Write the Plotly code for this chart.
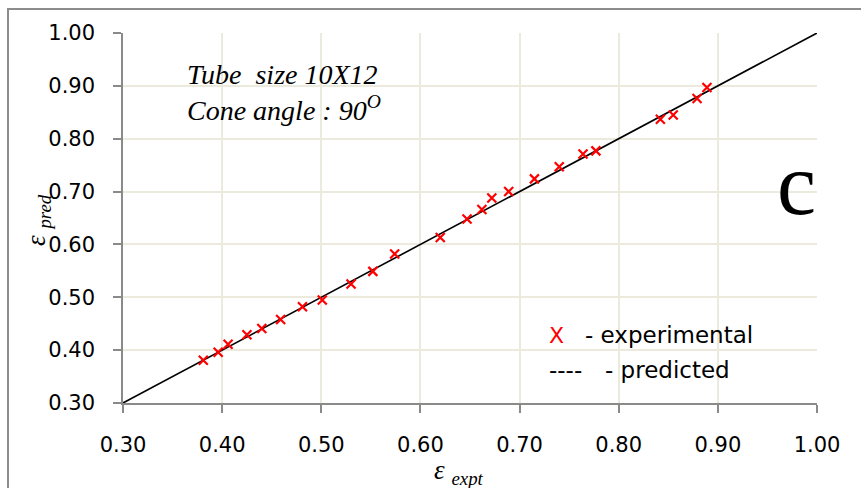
import plotly.graph_objects as go

# Measured vs. predicted effectiveness, tube 10X12, cone angle 90 deg
eps_expt = [0.381, 0.396, 0.406, 0.425, 0.440, 0.459, 0.481, 0.501, 0.530, 0.552,
            0.574, 0.620, 0.647, 0.662, 0.672, 0.689, 0.715, 0.740, 0.764, 0.777,
            0.842, 0.855, 0.879, 0.889]
eps_pred = [0.381, 0.396, 0.411, 0.429, 0.441, 0.458, 0.482, 0.495, 0.525, 0.549,
            0.582, 0.613, 0.648, 0.666, 0.688, 0.700, 0.724, 0.747, 0.771, 0.777,
            0.837, 0.845, 0.876, 0.897]

# parity line y = x across the plotted range
parity = [0.30, 1.00]
tick_vals = [0.30, 0.40, 0.50, 0.60, 0.70, 0.80, 0.90, 1.00]
tick_text = ["0.30", "0.40", "0.50", "0.60", "0.70", "0.80", "0.90", "1.00"]

W, H = 861, 488
L, R, T, B = 123, 44, 33, 85
pw, ph = W - L - R, H - T - B


def px_x(p):
    return (p - L) / pw


def px_y(p):
    return 1 - (p - T) / ph


fig = go.Figure()
fig.add_trace(go.Scatter(x=parity, y=parity, mode="lines",
                         line=dict(color="black", width=1.6),
                         showlegend=False, hoverinfo="skip"))
fig.add_trace(go.Scatter(x=eps_expt, y=eps_pred, mode="markers",
                         marker=dict(symbol="x-thin", size=9,
                                     line=dict(color="#ff0000", width=2.2)),
                         showlegend=False))

axis_common = dict(
    range=[0.30, 1.00], tickvals=tick_vals, ticktext=tick_text,
    showgrid=True, gridcolor="#ece9dd", gridwidth=2,
    showline=True, linecolor="#8a8a8a", linewidth=1.5,
    ticks="outside", ticklen=8, tickcolor="#8a8a8a", tickwidth=1.5,
    tickfont=dict(family="DejaVu Sans", size=21, color="black"),
    zeroline=False, automargin=False,
)
fig.update_xaxes(**axis_common, ticklabelstandoff=14)
fig.update_yaxes(**axis_common, ticklabelstandoff=14)

serif = "Liberation Serif, Times New Roman, serif"
sans = "DejaVu Sans"
annotations = [
    dict(x=px_x(185), y=px_y(75), text="<i>Tube  size 10X12</i>",
         font=dict(family=serif, size=28, color="black")),
    dict(x=px_x(185), y=px_y(108), text="<i>Cone angle : 90<sup>O</sup></i>",
         font=dict(family=serif, size=28, color="black")),
    dict(x=px_x(796), y=px_y(184), text="c", xanchor="center",
         font=dict(family=serif, size=88, color="black")),
    dict(x=px_x(547), y=px_y(335), text="X",
         font=dict(family=sans, size=22, color="#ff0000")),
    dict(x=px_x(583), y=px_y(335), text="- experimental",
         font=dict(family=sans, size=23, color="black")),
    dict(x=px_x(547), y=px_y(370), text="----",
         font=dict(family=sans, size=23, color="black")),
    dict(x=px_x(603), y=px_y(370), text="- predicted",
         font=dict(family=sans, size=23, color="black")),
]
for a in annotations:
    a.setdefault("xanchor", "left")
    a.update(xref="paper", yref="paper", yanchor="middle", showarrow=False)

# axis titles
annotations.append(dict(
    x=px_x(459), y=px_y(472), xref="paper", yref="paper",
    text="<i>ε <sub>expt</sub></i>", showarrow=False,
    xanchor="center", yanchor="middle",
    font=dict(family=serif, size=27, color="black")))
annotations.append(dict(
    x=px_x(38), y=px_y(220), xref="paper", yref="paper",
    text="<i>ε <sub>pred</sub></i>", showarrow=False, textangle=-90,
    xanchor="center", yanchor="middle",
    font=dict(family=serif, size=27, color="black")))

fig.update_layout(
    width=W, height=H,
    margin=dict(l=L, r=R, t=T, b=B),
    paper_bgcolor="white", plot_bgcolor="white",
    showlegend=False,
    annotations=annotations,
    shapes=[dict(type="rect", xref="paper", yref="paper",
                 x0=px_x(8), x1=px_x(880), y0=px_y(9), y1=px_y(520),
                 line=dict(color="#8c8c8c", width=2), layer="below")],
)

fig.write_html("out.html")
